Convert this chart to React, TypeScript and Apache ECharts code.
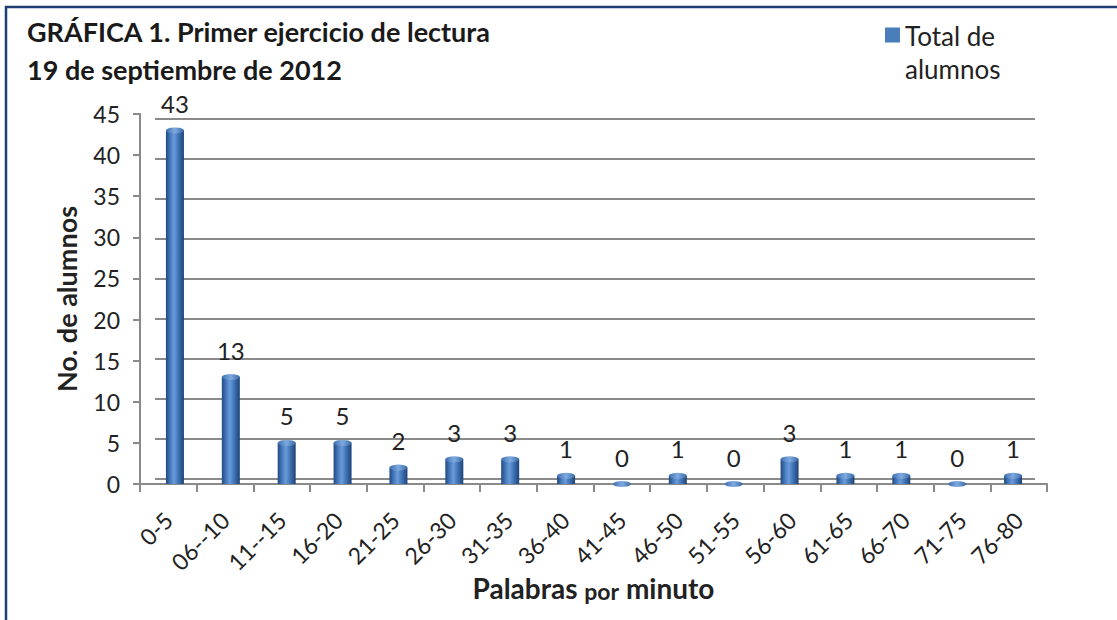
import React, { useEffect, useRef } from 'react';
import * as echarts from 'echarts';

const categories = ['0-5', '06--10', '11--15', '16-20', '21-25', '26-30', '31-35', '36-40', '41-45', '46-50', '51-55', '56-60', '61-65', '66-70', '71-75', '76-80'];
const totalAlumnos = [43, 13, 5, 5, 2, 3, 3, 1, 0, 1, 0, 3, 1, 1, 0, 1];
const yMin = 0;
const yMax = 45;
const yInterval = 5;
const titleLines = ['GRÁFICA 1. Primer ejercicio de lectura', '19 de septiembre de 2012'];
const seriesName = 'Total de alumnos';
const legendLines = ['Total de', 'alumnos'];
const yAxisName = 'No. de alumnos';
const xAxisNameParts = ['Palabras', 'por', 'minuto'];

const FONT = 'Lato, "Open Sans", sans-serif';
const TEXT = '#222222';
const GRID_GRAY = '#8a8a8a';

export default function App() {
  const ref = useRef<HTMLDivElement>(null);
  useEffect(() => {
    if (!ref.current) return;
    const chart = echarts.init(ref.current, undefined, { renderer: 'svg' });
    const barGradient = new echarts.graphic.LinearGradient(0, 0, 1, 0, [
      { offset: 0, color: '#21497f' },
      { offset: 0.3, color: '#4f84c8' },
      { offset: 0.45, color: '#6a9bd8' },
      { offset: 0.7, color: '#3f72b4' },
      { offset: 1, color: '#1d4376' },
    ]);
    const capGradient = new echarts.graphic.LinearGradient(0, 0, 1, 0, [
      { offset: 0, color: '#3f70b0' },
      { offset: 0.5, color: '#7eaae0' },
      { offset: 1, color: '#3a69a6' },
    ]);
    const option: any = {
      animation: false,
      backgroundColor: '#ffffff',
      tooltip: { show: false },
      title: {
        text: titleLines.join('\n'),
        left: 22,
        top: 7,
        textStyle: { fontFamily: FONT, fontWeight: 'bold', fontSize: 27, color: '#1a1a1a', lineHeight: 38 },
      },
      legend: {
        data: [seriesName],
        left: 880,
        top: 14,
        icon: 'path://M0,0L15,0L15,15L0,15Z M0,49L0.01,49',
        itemWidth: 15,
        itemHeight: 49,
        itemStyle: { color: '#4a7ebb' },
        formatter: () => legendLines.join('\n'),
        textStyle: { fontFamily: FONT, fontSize: 26, color: TEXT, lineHeight: 33 },
      },
      graphic: [
        { type: 'line', shape: { x1: 6, y1: 6, x2: 6, y2: 620 }, style: { stroke: '#1f3f74', lineWidth: 2.5 } },
        { type: 'line', shape: { x1: 5, y1: 7, x2: 1117, y2: 7 }, style: { stroke: '#1f3f74', lineWidth: 2.5 } },
      ],
      grid: [
        { left: 140, right: 70, top: 114, bottom: 136 },
        { left: 147, right: 76, top: 114, bottom: 136 },
        { left: 155, right: 82, top: 119, bottom: 141 },
      ],
      xAxis: [
        {
          type: 'category',
          gridIndex: 0,
          data: categories,
          boundaryGap: true,
          axisLine: { show: true, lineStyle: { color: GRID_GRAY, width: 2 } },
          axisTick: { show: true, length: 8, interval: 0, lineStyle: { color: GRID_GRAY, width: 2 } },
          axisLabel: { interval: 0, rotate: 45, fontSize: 23, color: TEXT, fontFamily: FONT, margin: 32 },
          splitLine: { show: false },
          name: `{b|${xAxisNameParts[0]}} {s|${xAxisNameParts[1]}} {b|${xAxisNameParts[2]}}`,
          nameLocation: 'middle',
          nameGap: 84,
          nameMoveOverlap: false,
          nameTextStyle: {
            fontFamily: FONT,
            fontWeight: 'bold',
            fontSize: 28,
            color: TEXT,
            rich: {
              b: { fontFamily: FONT, fontWeight: 'bold', fontSize: 28, color: TEXT, lineHeight: 34, verticalAlign: 'bottom' },
              s: { fontFamily: FONT, fontWeight: 'bold', fontSize: 23, color: TEXT, lineHeight: 30, verticalAlign: 'bottom' },
            },
          },
        },
        { type: 'category', gridIndex: 1, data: categories, show: false },
        { type: 'category', gridIndex: 2, data: categories, show: false },
      ],
      yAxis: [
        {
          type: 'value',
          gridIndex: 0,
          min: yMin,
          max: yMax,
          interval: yInterval,
          axisLine: { show: true, lineStyle: { color: GRID_GRAY, width: 2 } },
          axisTick: { show: true, length: 7, lineStyle: { color: GRID_GRAY, width: 2 } },
          axisLabel: { fontSize: 23, color: TEXT, fontFamily: FONT, margin: 20 },
          splitLine: { show: false },
          name: yAxisName,
          nameLocation: 'middle',
          nameGap: 60,
          nameMoveOverlap: false,
          nameTextStyle: { fontFamily: FONT, fontWeight: 'bold', fontSize: 27, color: TEXT },
        },
        { type: 'value', gridIndex: 1, min: yMin, max: yMax, interval: yInterval, show: false },
        {
          type: 'value',
          gridIndex: 2,
          min: yMin,
          max: yMax,
          interval: yInterval,
          axisLine: { show: false },
          axisTick: { show: false },
          axisLabel: { show: false },
          splitLine: { show: true, lineStyle: { color: GRID_GRAY, width: 2 } },
        },
      ],
      series: [
        {
          name: seriesName,
          type: 'bar',
          xAxisIndex: 1,
          yAxisIndex: 1,
          data: totalAlumnos,
          barWidth: 18,
          itemStyle: { color: barGradient },
          label: { show: true, position: 'top', distance: 15, fontSize: 24, color: TEXT, fontFamily: FONT },
          z: 3,
        },
        {
          name: 'cap',
          type: 'pictorialBar',
          xAxisIndex: 1,
          yAxisIndex: 1,
          data: totalAlumnos,
          symbol: 'circle',
          symbolSize: [18, 6],
          symbolPosition: 'end',
          symbolOffset: [0, '-50%'],
          itemStyle: { color: capGradient },
          z: 4,
        },
      ],
    };
    chart.setOption(option);
    return () => chart.dispose();
  }, []);
  return <div ref={ref} style={{ position: 'absolute', left: 0, top: 0, width: 1117, height: 620 }} />;
}
